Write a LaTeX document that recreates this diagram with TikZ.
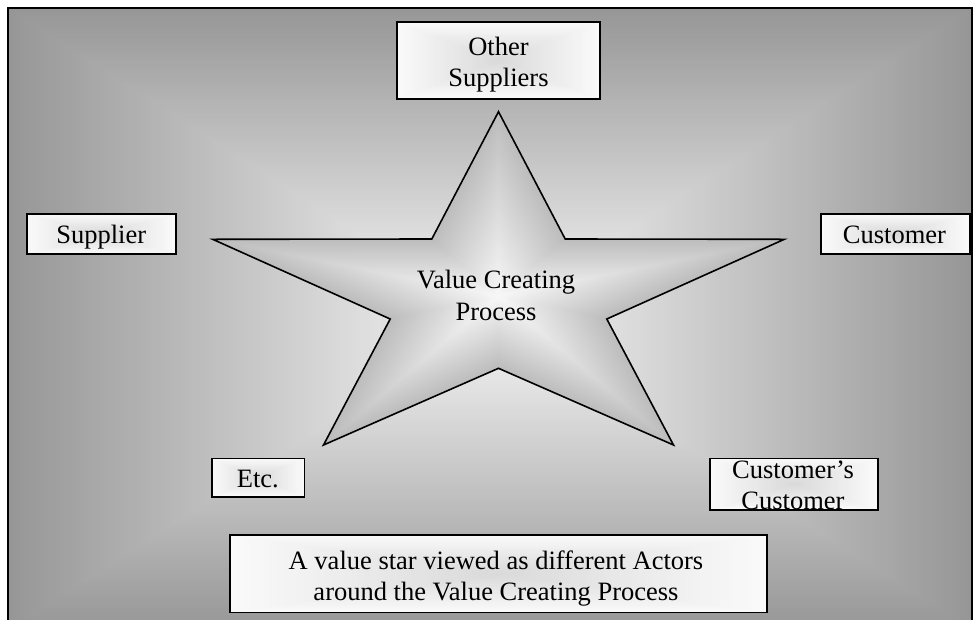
\documentclass[tikz,border=0pt]{standalone}
\usepackage{fontspec}
\setmainfont{Liberation Serif}

% Five-pointed star outline, relative to its centre (y grows downwards)
\tikzset{
  starpath/.style={insert path={
    (0,-184.3) -- (66.7,-57) -- (285.8,-56.7) -- (108.3,23) -- (175,149)
    -- (0,72.3) -- (-175,149) -- (-108.3,23) -- (-285.8,-56.7) -- (-66.7,-57) -- cycle}},
  actor/.style={draw=black, line width=1.6pt, inner sep=0pt},
  lbl/.style={font=\fontsize{26.5}{31.5}\selectfont, align=center, inner sep=0pt},
}

% Actor box: grey core fading to white towards the border
% #1 name, #2 #3 centre, #4 width, #5 height
\newcommand\actorbox[5]{%
  \foreach \i in {0,...,39}{%
    \pgfmathsetmacro\t{1-\i/40}%
    \pgfmathsetmacro\p{85+13*\t}%
    \fill[white!\p!black] ({#2-#4/2*\t},{#3-#5/2*\t}) rectangle ({#2+#4/2*\t},{#3+#5/2*\t});
  }%
  \node[actor, minimum width=#4pt, minimum height=#5pt] (#1) at (#2,#3) {};
}

\begin{document}
\begin{tikzpicture}[x=1pt, y=-1pt, line join=miter]
\useasboundingbox (0,0) rectangle (975,619);
\clip (0,0) rectangle (975,619);
\fill[white] (0,0) rectangle (975,619);

% background panel: light centre, grey rim
\foreach \i in {0,...,119}{%
  \pgfmathsetmacro\t{1-\i/120}%
  \pgfmathsetmacro\p{97-38*\t}%
  \fill[white!\p!black] ({490-482*\t},{319-311*\t}) rectangle ({490+482*\t},{319+311*\t});
}
\draw[line width=2.2pt] (8,8) rectangle (972,630);

% the value star
\begin{scope}[shift={(498.5,296)}]
  \foreach \i in {0,...,79}{%
    \pgfmathsetmacro\t{1-\i/80}%
    \pgfmathsetmacro\p{97-23*\t}%
    \fill[white!\p!black, scale=\t, starpath];
  }
  \draw[line width=1.6pt, starpath];
\end{scope}
\node[lbl, anchor=north] (vcp) at (496,270) {Value Creating\\Process};

% actors around the star
\actorbox{os}{498.5}{60.5}{203}{77}
\actorbox{sup}{101.2}{234}{149}{40}
\actorbox{cus}{895.4}{234}{149.3}{40}
\actorbox{etc}{258}{477.5}{92.6}{38.4}
\actorbox{cc}{793.9}{484.2}{167.7}{51.7}
\actorbox{cap}{498.4}{573.7}{536.7}{77.3}

\node[lbl, anchor=north] (os-t) at (498.5,36.6) {Other\\Suppliers};
\node[lbl, anchor=base] (sup-t) at (101.2,243) {Supplier};
\node[lbl, anchor=base] (cus-t) at (894.5,243.3) {Customer};
\node[lbl, anchor=base] (etc-t) at (257.8,487.3) {Etc.};
\node[lbl, anchor=north] (cc-t) at (793,460.3) {Customer’s\\Customer};
\node[lbl, anchor=north] (cap-t) at (496,550.2) {A value star viewed as different Actors\\around the Value Creating Process};
\end{tikzpicture}
\end{document}
